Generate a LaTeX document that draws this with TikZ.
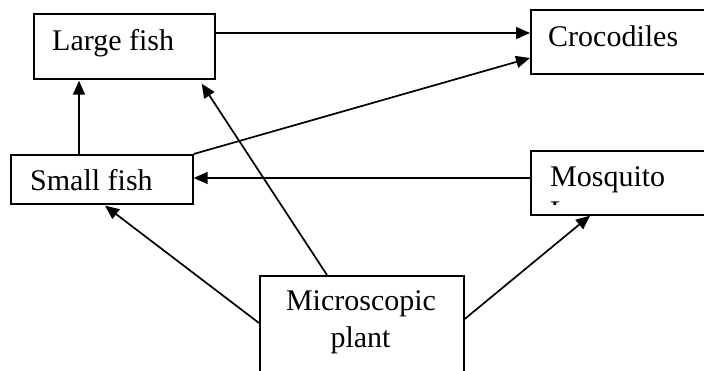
\documentclass[tikz,border=0pt]{standalone}
\usepackage{fontspec}
\setmainfont{Liberation Serif}
\usetikzlibrary{arrows.meta,calc}
\tikzset{
  box/.style={draw, line width=1.7pt, inner sep=0pt, anchor=north west},
  lbl/.style={inner sep=0pt, font=\fontsize{30}{36}\selectfont},
  arr/.style={line width=1.7pt, -{Triangle[length=14pt,width=12pt]}},
}
\begin{document}
\begin{tikzpicture}[x=1pt,y=-1pt]
\useasboundingbox (0,0) rectangle (704,371);
% boxes
\node[box, minimum width=181pt, minimum height=65pt] (lf) at (33,13) {};
\node[box, minimum width=190pt, minimum height=64pt] (cr) at (530,9) {};
\node[box, minimum width=190pt, minimum height=64pt] (mq) at (530,150) {};
\node[box, minimum width=182pt, minimum height=49pt] (sf) at (10,154) {};
\node[box, minimum width=204pt, minimum height=110pt] (mp) at (259,275) {};
% labels
\node[lbl, anchor=base west] (tlf) at (52,51) {Large fish};
\node[lbl, anchor=base west] (tcr) at (548,47) {Crocodiles};
\node[lbl, anchor=base west] (tsf) at (30,191) {Small fish};
\node[lbl, anchor=base west] (tmq) at (550,187) {Mosquito};
\begin{scope}
  \clip (531,151) rectangle (704,204.5);
  \node[lbl, anchor=base west] (tmq2) at (550,221.5) {Larvae};
\end{scope}
\node[lbl, anchor=base] (tmp1) at (361,311) {Microscopic};
\node[lbl, anchor=base] (tmp2) at (360.5,347) {plant};
% connectors
\draw[arr] ($(lf.north east)+(0,20)$) -- ($(cr.north west)+(0,24)$);
\draw[arr] (sf.north east) -- ($(cr.north west)+(0,49)$);
\draw[arr] ($(sf.north west)+(69,0)$) -- ($(lf.south west)+(46,1)$);
\draw[arr] ($(mq.north west)+(0,28)$) -- ($(sf.north east)+(0,24)$);
\draw[arr] ($(mp.north west)+(68,0)$) -- ($(lf.south east)+(-14,4)$);
\draw[arr] ($(mp.north west)+(0,48)$) -- ($(sf.south west)+(95,1)$);
\draw[arr] ($(mp.north east)+(0,44)$) -- ($(mq.south west)+(60,0)$);
\end{tikzpicture}
\end{document}
